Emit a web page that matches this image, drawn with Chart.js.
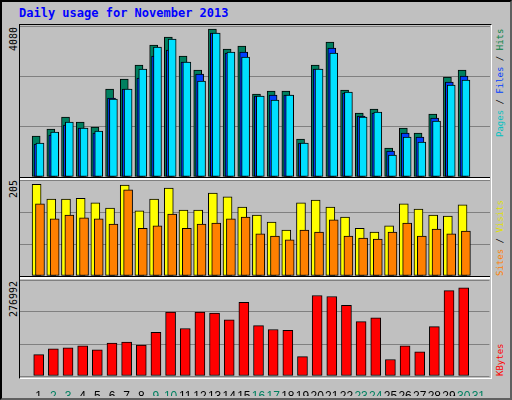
<!DOCTYPE html>
<html>
<head>
<meta charset="utf-8">
<script src="https://cdn.jsdelivr.net/npm/chart.js@4"></script>
<style>
  body { margin: 0; background: #fff; }
  #frame { position: absolute; left: 0; top: 0; width: 508px; height: 396px; background: #c0c0c0;
    border: 2px solid #000; border-right-color: #606060; border-bottom-color: #606060; box-sizing: content-box; }
  .panel { position: absolute; left: 20px; width: 470px; }
  #plotbox { position: absolute; left: 19px; top: 24px; width: 471px; height: 353px;
    border-left: 1px solid #000; border-top: 1px solid #000; border-right: 1px solid #fff; border-bottom: 1px solid #fff; }
  .sep { position: absolute; left: 20px; width: 470px; height: 2px; background: #fff; border-top: 1px solid #000; }
  .lbl { position: absolute; font: 9px "DejaVu Sans Mono", monospace; transform-origin: 0 0; transform: rotate(-90deg); white-space: nowrap; }
  .num { font-size: 10px; }
  #title { position: absolute; left: 19px; top: 6px; font: bold 12px "DejaVu Sans Mono", monospace; color: #0000ff; }
</style>
</head>
<body>
<div id="frame"></div>
<div id="title">Daily usage for November 2013</div>
<div id="plotbox"></div>
<div class="sep" style="top:177px"></div>
<div class="sep" style="top:276px"></div>
<div class="panel" style="top:26px;height:151px"><canvas id="c1"></canvas></div>
<div class="panel" style="top:180px;height:96px"><canvas id="c2"></canvas></div>
<div class="panel" style="top:280px;height:116px"><canvas id="c3"></canvas></div>
<div class="lbl num" style="left:8px;top:51px;color:#000">4080</div>
<div class="lbl num" style="left:8px;top:198px;color:#000">205</div>
<div class="lbl num" style="left:8px;top:317px;color:#000">276992</div>
<div class="lbl" style="left:495px;top:137px"><span style="color:#00c0c0">Pages</span> / <span style="color:#0040ff">Files</span> / <span style="color:#008040">Hits</span></div>
<div class="lbl" style="left:495px;top:276px"><span style="color:#ff8000">Sites</span> / <span style="color:#e0e000">Visits</span></div>
<div class="lbl" style="left:495px;top:376px"><span style="color:#ff0000">KBytes</span></div>
<script>
const days = Array.from({length: 30}, (_, i) => i + 1);
const dayLabels = ['1','2','3','4','5','6','7','8','9','10','11','12','13','14','15','16','17','18','19','20','21','22','23','24','25','26','27','28','29','30','31'];
const weekendDays = [2, 3, 9, 10, 16, 17, 23, 24, 30, 31];

const hits = [1108,1297,1621,1486,1351,2378,2648,3026,3567,3783,3269,2891,3999,3459,3540,2243,2324,2324,1027,3026,3648,2351,1729,1837,784,1324,1189,1702,2702,2891];
const files = [892,1135,1405,1324,1189,2135,2378,2675,3269,3432,3107,2783,3891,3350,3378,2189,2216,2216,919,2918,3486,2270,1648,1729,703,1189,1081,1594,2567,2729];
const pages = [919,1216,1486,1324,1243,2108,2378,2918,3513,3729,3107,2594,3891,3378,3242,2189,2081,2216,919,2918,3350,2297,1621,1756,594,1081,946,1513,2486,2621];
const visits = [196,164,164,166,156,145,194,139,164,188,141,141,177,169,147,130,115,98,156,162,147,126,102,94,107,154,143,130,128,152];
const sites = [154,122,130,124,122,111,184,102,107,132,102,111,113,122,126,90,85,77,98,94,120,85,81,79,94,113,85,100,90,96];
const kbytes = [61553,78340,81136,86732,75540,95125,97923,89530,125901,184655,137092,184655,181857,162272,212633,145486,134294,131497,55956,232217,229420,204239,156677,167868,47563,86732,69945,142688,246206,254600];

const X_MIN = 0.14;
function xAxis(shift, show) {
  return {
    type: 'linear', min: X_MIN + shift, max: X_MIN + shift + 31, display: show,
    grid: { display: false }, border: { display: false },
    ticks: {
      display: show, stepSize: 1, autoSkip: false, maxRotation: 0, padding: 5,
      font: { family: 'Liberation Sans', size: 12 },
      color: c => weekendDays.includes(c.tick.value) ? '#008060' : '#000',
      callback: v => dayLabels[v - 1] || ''
    },
    afterBuildTicks: a => { if (show) a.ticks = dayLabels.map((_, i) => ({ value: i + 1 })); },
    afterFit: a => { if (show) a.height = 20; }
  };
}
function yAxis(max) {
  return {
    min: 0, max: max, display: true,
    border: { display: false },
    grid: { color: '#808080', lineWidth: 1, drawTicks: false },
    ticks: { display: false, stepSize: max / 3 },
    afterFit: a => { a.width = 0; }
  };
}
function ds(data, color, axis, thick, order) {
  return {
    data: data.map((v, i) => ({ x: days[i], y: v })),
    backgroundColor: color, borderColor: '#000', borderWidth: 1, borderSkipped: false,
    barThickness: thick, xAxisID: axis, order: order, grouped: false
  };
}
function makeChart(id, datasets, scales) {
  new Chart(document.getElementById(id), {
    type: 'bar',
    data: { datasets },
    options: {
      responsive: true, maintainAspectRatio: false, animation: false,
      layout: { padding: 0 },
      plugins: { legend: { display: false }, tooltip: { enabled: false } },
      scales
    }
  });
}

makeChart('c1', [
  ds(hits, '#008060', 'xa', 8, 3),
  ds(files, '#0040ff', 'xb', 8, 2),
  ds(pages, '#00e0ff', 'xc', 8, 1)
], { xa: xAxis(0.26, false), xb: xAxis(0.13, false), xc: xAxis(0, false), y: yAxis(4080) });

makeChart('c2', [
  ds(visits, '#ffff00', 'xa', 9, 2),
  ds(sites, '#ff8000', 'xb', 9, 1)
], { xa: xAxis(0.23, false), xb: xAxis(0, false), y: yAxis(205) });

makeChart('c3', [
  ds(kbytes, '#ff0000', 'x', 10, 1)
], { x: Object.assign(xAxis(0.1, true), { position: 'bottom' }), y: yAxis(276992) });
</script>
</body>
</html>
